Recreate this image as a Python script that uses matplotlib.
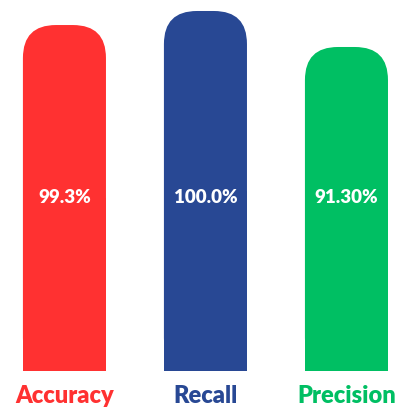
import matplotlib.pyplot as plt
import matplotlib.transforms as mtransforms
from matplotlib.patches import FancyBboxPatch, Rectangle

# data
metrics = ['Accuracy', 'Recall', 'Precision']
value_labels = ['99.3%', '100.0%', '91.30%']
bar_heights = [96.1, 100.0, 90.0]   # drawn heights (Recall = 100)
colors = ['#ff3131', '#284894', '#00bf63']

W, H = 403, 410
fig = plt.figure(figsize=(W / 100, H / 100), dpi=100)
ax = fig.add_axes([0, 38 / H, 1, 372 / H])
ax.set_xlim(-0.457, 2.401)
ax.set_ylim(0, 103.33)
ax.axis('off')

width = 0.589
# units per pixel, to get round corners in screen space
xu = (2.401 + 0.457) / W
yu = 103.33 / 372
radius_px = 33

for i, (h, c) in enumerate(zip(bar_heights, colors)):
    x0 = i - width / 2
    top = FancyBboxPatch((x0, 0), width, h,
                         boxstyle='round,pad=0,rounding_size=%f' % (radius_px * xu),
                         mutation_aspect=yu / xu,
                         facecolor=c, edgecolor='none')
    ax.add_patch(top)
    ax.add_patch(Rectangle((x0, 0), width, h / 2, facecolor=c, edgecolor='none'))

trans = mtransforms.blended_transform_factory(ax.transData, fig.transFigure)
for i, (m, v, c) in enumerate(zip(metrics, value_labels, colors)):
    ax.text(i, 212 / H, v, transform=trans, ha='center', va='center',
            color='white', fontsize=13.5, fontweight='heavy', family='Lato')
    ax.text(i, 7 / H, m, transform=trans, ha='center', va='baseline',
            color=c, fontsize=17, fontweight='heavy', family='Lato')

fig.savefig('out.png', dpi=100)
